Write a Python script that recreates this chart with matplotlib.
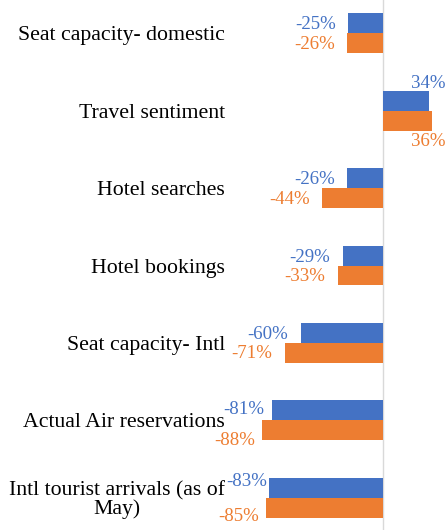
import matplotlib
matplotlib.use("Agg")
import matplotlib.pyplot as plt
import numpy as np

# Indicators (top to bottom) and percentage change for two periods
categories = [
    "Seat capacity- domestic",
    "Travel sentiment",
    "Hotel searches",
    "Hotel bookings",
    "Seat capacity- Intl",
    "Actual Air reservations",
    "Intl tourist arrivals (as of\nMay)",
]
series_blue = [-25, 34, -26, -29, -60, -81, -83]
series_orange = [-26, 36, -44, -33, -71, -88, -85]

BLUE = "#4472C4"
ORANGE = "#ED7D31"

plt.rcParams["font.family"] = ["Liberation Serif", "DejaVu Serif"]

DPI = 100
fig = plt.figure(figsize=(4.46, 5.30), dpi=DPI)
ax = fig.add_axes([229 / 446, 0.0, 1 - 229 / 446, 1.0])

y = np.arange(len(categories))
h = 0.258
ax.barh(y - h / 2, series_blue, height=h, color=BLUE, zorder=2)
ax.barh(y + h / 2, series_orange, height=h, color=ORANGE, zorder=2)

ax.set_xlim(-112.2, 46.2)
ax.set_ylim(6.417, -0.430)

# zero line
ax.axvline(0, color="#D9D9D9", lw=1.0, zorder=1)

for s in ax.spines.values():
    s.set_visible(False)
ax.set_xticks([])
ax.set_yticks(y)
ax.set_yticklabels(categories, fontsize=15.7, color="black")
ax.tick_params(axis="y", length=0, pad=2.9)
for lbl in ax.get_yticklabels():
    lbl.set_multialignment("center")
    lbl.set_linespacing(0.95)

# label nudges in pixels (dx, dy), dy positive = downwards
default_nudge = (-12.5, 1.5)
nudges_blue = {1: (16, -17.7), 5: (-7.7, -0.7), 6: (-2.3, -6)}
nudges_orange = {1: (13, 20.7), 4: (-13.7, 1), 5: (-7, 10), 6: (-7, 9)}

px2pt = 72 / DPI


def put_labels(vals, offset, color, nudges):
    for i, v in enumerate(vals):
        dx, dy = nudges.get(i, default_nudge)
        ax.annotate(f"{v}%", xy=(v, i + offset), xytext=(dx * px2pt, -dy * px2pt),
                    textcoords="offset points", ha="right", va="center",
                    fontsize=13.6, color=color, annotation_clip=False, zorder=3)


put_labels(series_blue, -h / 2, BLUE, nudges_blue)
put_labels(series_orange, h / 2, ORANGE, nudges_orange)

fig.savefig("out.png", dpi=DPI)
